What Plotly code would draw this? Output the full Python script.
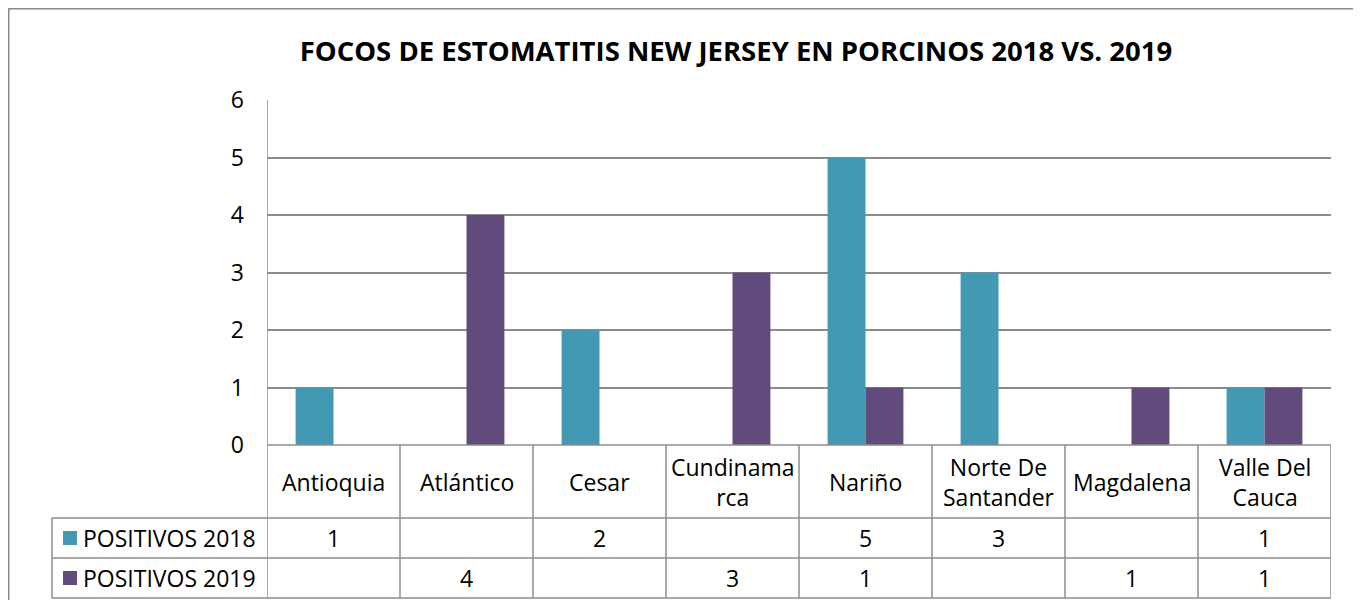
import plotly.graph_objects as go

categories = ["Antioquia", "Atlántico", "Cesar", "Cundinamarca", "Nariño",
              "Norte De Santander", "Magdalena", "Valle Del Cauca"]
cat_labels = ["Antioquia", "Atlántico", "Cesar", "Cundinama<br>rca", "Nariño",
              "Norte De<br>Santander", "Magdalena", "Valle Del<br>Cauca"]
series_names = ["POSITIVOS 2018", "POSITIVOS 2019"]
pos_2018 = [1, None, 2, None, 5, 3, None, 1]
pos_2019 = [None, 4, None, 3, 1, None, 1, 1]
y_ticks = [0, 1, 2, 3, 4, 5, 6]
title_text = "FOCOS DE ESTOMATITIS NEW JERSEY EN PORCINOS 2018 VS. 2019"

OFF = 8  # page body margin
W, H = 1361 - OFF, 608 - 2 * OFF
L, R, T, B = 267, 1331, 100, 445  # page pixel coords of plot area
colors = ["#4399B1", "#614A7C"]
grid = "#8C8C8C"
FONT = "Open Sans, Liberation Sans, sans-serif"

def py(p):  # page pixel y -> paper y
    return (B - p) / (B - T)

def px(p):  # page pixel x -> paper x
    return (p - L) / (R - L)

n = len(categories)
xs = list(range(n))

fig = go.Figure()
for name, vals, c in zip(series_names, [pos_2018, pos_2019], colors):
    fig.add_trace(go.Bar(x=xs, y=vals, name=name, marker=dict(color=c, line=dict(width=0))))

shapes = []
annotations = []
# outer chart frame
shapes.append(dict(type="line", xref="paper", yref="paper", x0=px(8.5), x1=px(1358),
                   y0=py(8.5), y1=py(8.5), line=dict(color="#888888", width=2)))
shapes.append(dict(type="line", xref="paper", yref="paper", x0=px(8.5), x1=px(8.5),
                   y0=py(8.5), y1=py(620), line=dict(color="#888888", width=2)))
shapes.append(dict(type="line", xref="paper", yref="paper", x0=px(1356), x1=px(1356),
                   y0=py(8.5), y1=py(620), line=dict(color="#888888", width=2)))
for yy in [518, 558, 598]:
    shapes.append(dict(type="line", xref="paper", yref="paper", x0=px(52), x1=1,
                       y0=py(yy), y1=py(yy), line=dict(color=grid, width=1.5)))
shapes.append(dict(type="line", xref="paper", yref="paper", x0=0, x1=1,
                   y0=0, y1=0, line=dict(color=grid, width=1.5)))
for i in range(n + 1):
    shapes.append(dict(type="line", xref="x", yref="paper", x0=i - 0.5, x1=i - 0.5,
                       y0=py(598), y1=0 if i > 0 else 1, line=dict(color=grid, width=1.5)))
shapes.append(dict(type="line", xref="paper", yref="paper", x0=px(52), x1=px(52),
                   y0=py(598), y1=py(518), line=dict(color=grid, width=1.5)))

for i, lab in enumerate(cat_labels):
    annotations.append(dict(x=i, y=py(481.5), xref="x", yref="paper", text=lab,
                            showarrow=False, xanchor="center", yanchor="middle",
                            font=dict(size=23, color="black", family=FONT)))
row_centers = [538, 578]
for name, vals, c, rc in zip(series_names, [pos_2018, pos_2019], colors, row_centers):
    shapes.append(dict(type="rect", xref="paper", yref="paper", x0=px(63), x1=px(77),
                       y0=py(rc + 7), y1=py(rc - 7), fillcolor=c, line=dict(width=0)))
    annotations.append(dict(x=px(81), y=py(rc), xref="paper", yref="paper", text=name,
                            showarrow=False, xanchor="left", yanchor="middle",
                            font=dict(size=23, color="black", family=FONT)))
    for i, v in enumerate(vals):
        if v is not None:
            annotations.append(dict(x=i, y=py(rc), xref="x", yref="paper", text=str(v),
                                    showarrow=False, xanchor="center", yanchor="middle",
                                    font=dict(size=23, color="black", family=FONT)))

fig.update_layout(
    width=W, height=H,
    margin=dict(l=L - OFF, r=W - (R - OFF), t=T - OFF, b=H - (B - OFF), pad=0),
    paper_bgcolor="white", plot_bgcolor="white",
    barmode="group", bargap=0.43, bargroupgap=0,
    showlegend=False,
    title=dict(text="<b>" + title_text + "</b>", x=(736 - OFF) / W, xref="container",
               xanchor="center", y=1 - (51 - OFF) / H, yref="container", yanchor="middle",
               font=dict(size=27.5, color="black", family=FONT)),
    xaxis=dict(range=[-0.5, n - 0.5], showticklabels=False, showgrid=False, zeroline=False,
               showline=False, fixedrange=True),
    yaxis=dict(range=[0, 6], tickvals=y_ticks, showgrid=True, gridcolor=grid, gridwidth=1.5,
               zeroline=False, showline=False, ticks="", ticklabelstandoff=22,
               tickfont=dict(size=23, color="black", family=FONT)),
    shapes=shapes, annotations=annotations,
)

fig.write_html("out.html")
